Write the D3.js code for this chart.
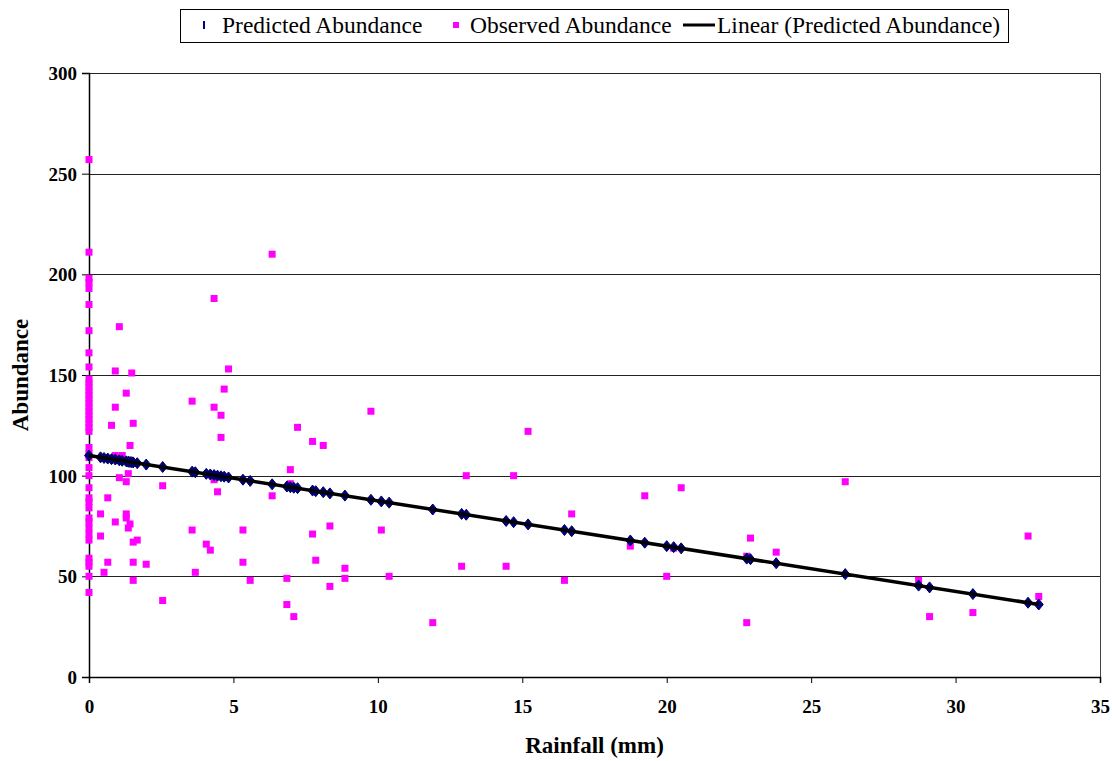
<!DOCTYPE html>
<html>
<head>
<meta charset="utf-8">
<script src="https://cdnjs.cloudflare.com/ajax/libs/d3/7.8.5/d3.min.js"></script>
<style>
  body { margin: 0; background: #fff; }
  svg text { font-family: "Liberation Serif", "Times New Roman", Times, serif; }
  .tick text { font-weight: bold; font-size: 19px; fill: #000; }
  .axisTitle { font-weight: bold; font-size: 23px; }
  .legendText { font-size: 23.5px; }
</style>
</head>
<body>
<div id="chart"></div>
<script>
// rainfall (mm) of each site, the model's predicted abundance there,
// and the abundances that were observed at that rainfall
var rainfall = [0, 0.40, 0.52, 0.65, 0.78, 0.91, 1.05, 1.15, 1.29, 1.36, 1.42, 1.48, 1.53, 1.67, 1.98,
  2.55, 3.57, 3.68, 4.06, 4.20, 4.33, 4.45, 4.57, 4.68, 4.83, 5.33, 5.58, 6.34, 6.85, 6.97, 7.09,
  7.22, 7.74, 7.85, 8.11, 8.34, 8.86, 9.76, 10.12, 10.39, 11.90, 12.90, 13.06, 14.44, 14.70, 15.20,
  16.46, 16.71, 18.74, 19.24, 20.00, 20.24, 20.50, 22.77, 22.90, 23.79, 26.18, 28.72, 29.10, 30.60,
  32.51, 32.88];

var predicted = [110.0, 109.1, 108.8, 108.5, 108.2, 108.0, 107.6, 107.4, 107.1, 106.9, 106.8, 106.7,
  106.6, 106.2, 105.5, 104.3, 102.0, 101.7, 100.9, 100.6, 100.3, 100.0, 99.7, 99.5, 99.1, 98.0, 97.4,
  95.7, 94.6, 94.3, 94.0, 93.8, 92.6, 92.3, 91.8, 91.2, 90.1, 88.0, 87.2, 86.6, 83.2, 81.0, 80.6,
  77.5, 76.9, 75.8, 73.0, 72.4, 67.8, 66.7, 65.0, 64.5, 63.9, 58.8, 58.5, 56.5, 51.1, 45.4, 44.5,
  41.2, 36.9, 36.0];

var observed = [
  [257, 211, 198, 196, 193, 185, 172, 161, 154, 148, 146, 144, 142, 140, 138, 136, 134, 132, 130,
   128, 126, 124, 122, 114, 111, 109, 104, 100, 94, 89, 87, 84, 79, 77, 74, 71, 68, 59, 57, 55, 50, 42],
  [81, 70], [52], [89, 57], [125], [152, 134, 110, 77], [174, 99], [110], [141, 97, 81, 79],
  [101, 74], [115, 76], [151], [126, 67, 57, 48], [68], [56], [95, 38], [137, 73], [52], [66], [63],
  [188, 134, 98], [92], [130, 119], [143], [153], [73, 57], [48], [210, 90], [49, 36], [103, 96],
  [30], [124], [117, 71], [58], [115], [75, 45], [54, 49], [132], [73], [50], [27], [55], [100],
  [55], [100], [122], [48], [81], [65], [90], [50], [64], [94], [60, 27], [69], [62], [97], [48],
  [30], [32], [70], [40]
];

var xTicks = [0, 5, 10, 15, 20, 25, 30, 35];
var yTicks = [0, 50, 100, 150, 200, 250, 300];

var serif = '"Liberation Serif", "Times New Roman", Times, serif';

var svgWidth = 1112;
var svgHeight = 761;
var margin = { top: 73, right: 12, bottom: 84, left: 89 };
var width = svgWidth - margin.left - margin.right;
var height = svgHeight - margin.top - margin.bottom;

var svg = d3.select("#chart")
  .append("svg")
  .attr("width", svgWidth)
  .attr("height", svgHeight)
  .attr("font-family", serif);

var chartGroup = svg.append("g")
  .attr("transform", `translate(${margin.left}, ${margin.top})`);

var xScale = d3.scaleLinear().domain([0, 35]).range([0, width]);
var yScale = d3.scaleLinear().domain([0, 300]).range([height, 0]);

// horizontal gridlines
chartGroup.selectAll(".grid")
  .data(yTicks.filter(d => d > 0))
  .enter()
  .append("line")
  .attr("x1", 0)
  .attr("x2", width)
  .attr("y1", d => Math.round(yScale(d)) + 0.5)
  .attr("y2", d => Math.round(yScale(d)) + 0.5)
  .attr("stroke", "#222")
  .attr("stroke-width", 1);

// right border of the plot area
chartGroup.append("line")
  .attr("x1", width + 0.5).attr("x2", width + 0.5)
  .attr("y1", 0).attr("y2", height)
  .attr("stroke", "#444");

// axes
var bottomAxis = d3.axisBottom(xScale).tickValues(xTicks).tickSize(6).tickPadding(17);
var leftAxis = d3.axisLeft(yScale).tickValues(yTicks).tickSize(7).tickPadding(5);

var xAxis = chartGroup.append("g")
  .attr("transform", `translate(0, ${height})`)
  .call(bottomAxis)
  .attr("font-family", serif);

var yAxis = chartGroup.append("g")
  .call(leftAxis)
  .attr("font-family", serif);

xAxis.select(".domain").attr("stroke", "#000").attr("stroke-width", 1.5);
yAxis.select(".domain").attr("stroke", "#000").attr("stroke-width", 1.5);
xAxis.selectAll(".tick line").attr("stroke", "#000");
yAxis.selectAll(".tick line").attr("stroke", "#000");
yAxis.selectAll(".tick text").attr("dy", "0.35em");

// flatten observations into points
var obsPoints = [];
observed.forEach(function(list, i) {
  list.forEach(function(v) {
    obsPoints.push({ x: rainfall[i], y: v });
  });
});

var predPoints = rainfall.map((r, i) => ({ x: r, y: predicted[i] }));

// observed abundance (magenta squares)
chartGroup.selectAll(".obs")
  .data(obsPoints)
  .enter()
  .append("rect")
  .attr("class", "obs")
  .attr("x", d => xScale(d.x) - 3.5)
  .attr("y", d => yScale(d.y) - 3.5)
  .attr("width", 7)
  .attr("height", 7)
  .attr("fill", "#ff00ff");

// predicted abundance (navy diamonds)
var diamond = "M0,-5.5L4.5,0L0,5.5L-4.5,0Z";
chartGroup.selectAll(".pred")
  .data(predPoints)
  .enter()
  .append("path")
  .attr("class", "pred")
  .attr("d", diamond)
  .attr("transform", d => `translate(${xScale(d.x)}, ${yScale(d.y)})`)
  .attr("fill", "#000080")
  .attr("stroke", "#000060")
  .attr("stroke-width", 1);

// linear trendline fitted to the predicted series
var mx = d3.mean(predPoints, d => d.x);
var my = d3.mean(predPoints, d => d.y);
var slope = d3.sum(predPoints, d => (d.x - mx) * (d.y - my)) / d3.sum(predPoints, d => (d.x - mx) * (d.x - mx));
var intercept = my - slope * mx;
var xExtent = d3.extent(rainfall);

chartGroup.append("line")
  .attr("x1", xScale(xExtent[0]))
  .attr("y1", yScale(intercept + slope * xExtent[0]))
  .attr("x2", xScale(xExtent[1]))
  .attr("y2", yScale(intercept + slope * xExtent[1]))
  .attr("stroke", "#000")
  .attr("stroke-width", 3.5);

// axis titles
svg.append("text")
  .attr("class", "axisTitle")
  .attr("x", margin.left + xScale(17.5))
  .attr("y", 753)
  .attr("text-anchor", "middle")
  .text("Rainfall (mm)");

svg.append("text")
  .attr("class", "axisTitle")
  .attr("transform", `translate(28, ${margin.top + height / 2}) rotate(-90)`)
  .attr("text-anchor", "middle")
  .text("Abundance");

// legend
var legend = svg.append("g");
legend.append("rect")
  .attr("x", 180.5).attr("y", 9.5)
  .attr("width", 828).attr("height", 33)
  .attr("fill", "#fff")
  .attr("stroke", "#000");

legend.append("rect")
  .attr("x", 203).attr("y", 21).attr("width", 2).attr("height", 8)
  .attr("fill", "#000080");
legend.append("text").attr("class", "legendText")
  .attr("x", 222).attr("y", 33).text("Predicted Abundance");

legend.append("rect")
  .attr("x", 453).attr("y", 22).attr("width", 6).attr("height", 6)
  .attr("fill", "#ff00ff");
legend.append("text").attr("class", "legendText")
  .attr("x", 470).attr("y", 33).text("Observed Abundance");

legend.append("line")
  .attr("x1", 683).attr("x2", 715)
  .attr("y1", 25).attr("y2", 25)
  .attr("stroke", "#000").attr("stroke-width", 3);
legend.append("text").attr("class", "legendText")
  .attr("x", 717).attr("y", 33).text("Linear (Predicted Abundance)");
</script>
</body>
</html>
